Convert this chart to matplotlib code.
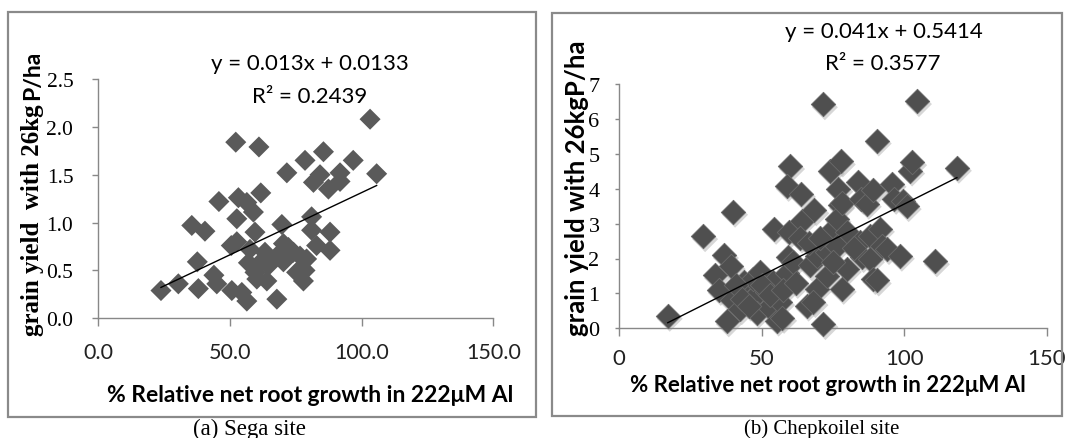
import matplotlib
matplotlib.use('Agg')
import matplotlib.pyplot as plt
from matplotlib.patches import Rectangle
from matplotlib import transforms
import numpy as np

# (a) Sega site: % relative net root growth vs grain yield (t/ha)
sega_rng = [23.8, 30.4, 35.5, 40.5, 37.6, 38.0, 43.9, 45.0, 45.8, 50.7, 50.5, 52.2,
            52.6, 52.6, 53.2, 54.5, 56.4, 56.4, 57.0, 57.6, 58.9, 59.5, 59.5, 60.2,
            61.0, 61.4, 61.7, 63.3, 64.0, 64.6, 67.8, 67.8, 69.7, 70.3, 70.3, 71.6,
            72.2, 74.1, 75.3, 76.6, 77.9, 78.5, 78.5, 79.1, 81.0, 81.0, 81.7, 82.9,
            84.2, 85.5, 87.4, 88.0, 88.0, 91.8, 91.8, 96.8, 103.2, 105.7]
sega_yield = [0.29, 0.36, 0.97, 0.91, 0.59, 0.31, 0.45, 0.36, 1.22, 0.29, 0.76, 1.84,
              1.04, 0.80, 1.26, 0.27, 1.21, 0.18, 0.58, 0.72, 1.11, 0.90, 0.48, 0.41,
              1.79, 0.58, 1.31, 0.69, 0.39, 0.55, 0.65, 0.20, 0.98, 0.78, 0.59, 1.52,
              0.74, 0.69, 0.48, 0.65, 0.39, 1.65, 0.50, 0.62, 1.06, 0.92, 1.42, 0.76,
              1.50, 1.74, 1.35, 0.90, 0.71, 1.52, 1.43, 1.65, 2.08, 1.51]

# (b) Chepkoilel site
chep_rng = [17.1, 29.5, 40.0, 36.8, 33.7, 39.2, 35.0, 37.8, 39.5, 42.4, 44.5, 44.0,
            47.7, 48.3, 47.1, 49.5, 51.8, 52.5, 54.1, 54.4, 55.3, 56.5, 58.8, 59.7,
            59.4, 61.1, 57.2, 60.0, 58.8, 63.8, 64.1, 65.8, 67.0, 68.5, 69.3, 69.3,
            68.2, 71.5, 71.7, 72.9, 72.9, 74.0, 73.9, 77.8, 76.9, 77.5, 76.3, 78.1,
            79.9, 76.4, 79.9, 78.1, 84.5, 83.9, 85.0, 86.9, 85.1, 88.0, 88.0, 89.2,
            89.2, 90.4, 91.5, 92.1, 90.4, 94.0, 95.6, 96.5, 99.7, 100.9, 98.5, 102.1,
            102.8, 104.5, 110.8, 118.5, 41.0, 43.0, 45.5, 50.0, 53.0, 57.5, 62.0, 63.5,
            66.5, 70.5, 75.0, 82.5]
chep_yield = [0.36, 2.64, 3.34, 2.10, 1.52, 1.78, 1.10, 0.20, 0.80, 0.55, 1.10, 1.32,
              0.92, 0.45, 1.41, 1.60, 1.03, 0.60, 1.32, 2.85, 0.22, 0.75, 1.58, 2.75,
              2.05, 1.89, 0.30, 4.65, 4.08, 3.85, 3.08, 0.65, 1.80, 3.38, 2.08, 1.13,
              0.75, 6.42, 0.12, 1.51, 2.18, 2.75, 4.52, 4.78, 4.00, 3.52, 3.14, 3.60,
              2.75, 2.37, 1.70, 1.13, 2.47, 4.20, 3.71, 3.57, 2.04, 2.65, 1.98, 3.95,
              1.41, 5.38, 2.85, 2.37, 1.37, 2.27, 4.14, 3.71, 3.66, 3.50, 2.08, 4.52,
              4.76, 6.51, 1.92, 4.60, 1.25, 0.85, 0.65, 1.25, 0.95, 1.10, 1.30, 2.60,
              2.45, 2.60, 1.90, 2.30]

# linear trend lines (slope, intercept) as drawn
sega_fit = [0.013, 0.0133]
chep_fit = [0.041, -0.5414]
sega_eq = ['y = 0.013x + 0.0133', 'R² = 0.2439']
chep_eq = ['y = 0.041x + 0.5414', 'R² = 0.3577']

W, H = 1068, 439
fig = plt.figure(figsize=(W / 100, H / 100), dpi=100)

def fx(px):
    return px / W

def fy(py):
    return 1 - py / H

SERIF = 'Liberation Serif'
SANS = 'Lato'
axcol = '#888888'

# panel frames
for x0, y0, x1, y1 in [(7.5, 13, 536, 418), (552, 13.5, 1062, 417)]:
    fig.patches.append(Rectangle((fx(x0), fy(y1)), fx(x1) - fx(x0), fy(y0) - fy(y1),
                                 transform=fig.transFigure, fill=False,
                                 ec='#8a8a8a', lw=1.6))

ax1 = fig.add_axes([fx(98.3), fy(319.3), fx(493.3) - fx(98.3), fy(80) - fy(319.3)])
ax2 = fig.add_axes([fx(619), fy(329.3), fx(1046.7) - fx(619), fy(85) - fy(329.3)])

for ax in (ax1, ax2):
    ax.set_facecolor('none')
    for s in ('top', 'right'):
        ax.spines[s].set_visible(False)
    for s in ('left', 'bottom'):
        ax.spines[s].set_color(axcol)
        ax.spines[s].set_linewidth(1.0)
    ax.tick_params(direction='out', color=axcol, width=1.0)

# (a)
ax1.set_xlim(0, 150)
ax1.set_ylim(0, 2.5)
ax1.set_xticks([0, 50, 100, 150])
ax1.set_xticklabels(['0.0', '50.0', '100.0', '150.0'], family=SANS, fontsize=15.5,
                    color='#222222')
ax1.set_yticks([0, 0.5, 1.0, 1.5, 2.0, 2.5])
ax1.set_yticklabels(['0.0', '0.5', '1.0', '1.5', '2.0', '2.5'], family=SERIF, fontsize=15.5)
ax1.tick_params(axis='x', length=6, pad=11)
ax1.tick_params(axis='y', length=4, pad=14)
ax1.scatter(sega_rng, sega_yield, marker='D', s=115, c='#5a5a5a', edgecolors='none',
            zorder=3, clip_on=False)
xs = np.array([min(sega_rng), max(sega_rng)])
ax1.plot(xs, sega_fit[0] * xs + sega_fit[1], color='black', lw=1.0, zorder=4)

# (b)
ax2.set_xlim(0, 150)
ax2.set_ylim(0, 7)
ax2.set_xticks([0, 50, 100, 150])
ax2.set_xticklabels(['0', '50', '100', '150'], family=SANS, fontsize=16, color='#222222')
ax2.set_yticks(range(8))
ax2.set_yticklabels([str(v) for v in range(8)], family=SERIF, fontsize=16)
ax2.tick_params(axis='x', length=6, pad=8)
ax2.tick_params(axis='y', length=3, pad=11)
shadow = transforms.offset_copy(ax2.transData, fig=fig, x=2, y=-3, units='dots')
ax2.scatter(chep_rng, chep_yield, marker='D', s=175, c='#b0b0b0', alpha=0.5,
            edgecolors='none', transform=shadow, zorder=2, clip_on=False)
ax2.scatter(chep_rng, chep_yield, marker='D', s=155, c='#4f4f4f', edgecolors='#6a6a6a',
            linewidths=0.6, zorder=3, clip_on=False)
xs = np.array([min(chep_rng), max(chep_rng)])
ax2.plot(xs, chep_fit[0] * xs + chep_fit[1], color='black', lw=1.0, zorder=4)

# equations
fig.text(fx(310), fy(64), sega_eq[0], family=SANS, fontsize=16, ha='center', va='center')
fig.text(fx(310), fy(97), sega_eq[1], family=SANS, fontsize=16, ha='center', va='center')
fig.text(fx(884), fy(32), chep_eq[0], family=SANS, fontsize=16, ha='center', va='center')
fig.text(fx(883), fy(64), chep_eq[1], family=SANS, fontsize=16, ha='center', va='center')

# axis titles
fig.text(fx(310), fy(396), '% Relative net root growth in 222μM Al', family=SANS,
         fontweight='bold', fontsize=16.5, ha='center', va='center')
fig.text(fx(828), fy(386), '% Relative net root growth in 222μM Al', family=SANS,
         fontweight='bold', fontsize=16, ha='center', va='center')
fig.text(fx(33), fy(220), 'grain yield  with 26kg', family=SERIF, fontweight='bold',
         fontsize=18, rotation=90, ha='center', va='center')
fig.text(fx(33), fy(75), 'P/ha', family=SANS, fontweight='bold',
         fontsize=16.5, rotation=90, ha='center', va='center')
fig.text(fx(577), fy(188), 'grain yield with 26kgP/ha', family=SANS, fontweight='bold',
         fontsize=18.5, rotation=90, ha='center', va='center')

# captions
fig.text(fx(249), fy(429), '(a) Sega site', family=SERIF, fontsize=16.5, ha='center', va='center')
fig.text(fx(822), fy(429), '(b) Chepkoilel site', family=SERIF, fontsize=15, ha='center', va='center')

fig.savefig('out.png', dpi=100)
